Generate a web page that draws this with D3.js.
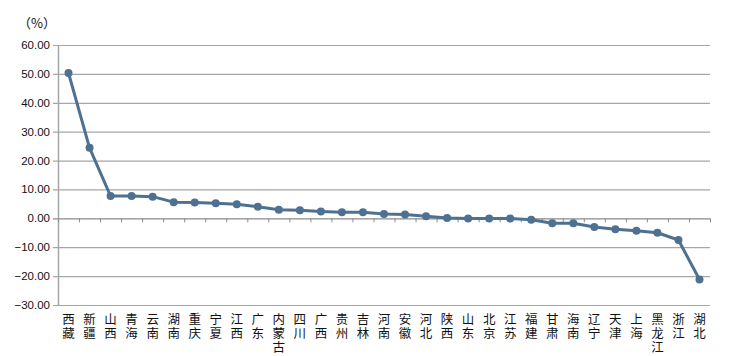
<!DOCTYPE html>
<html><head><meta charset="utf-8">
<script src="https://cdn.jsdelivr.net/npm/d3@7/dist/d3.min.js"></script>
<style>
body{margin:0;background:#fff;}
svg{display:block;}
</style></head>
<body>
<svg id="chart" width="732" height="356"></svg>
<script>
const categories = ["西藏","新疆","山西","青海","云南","湖南","重庆","宁夏","江西","广东","内蒙古","四川","广西","贵州","吉林","河南","安徽","河北","陕西","山东","北京","江苏","福建","甘肃","海南","辽宁","天津","上海","黑龙江","浙江","湖北"];
const values = [50.3,24.4,7.7,7.7,7.5,5.6,5.5,5.2,4.9,4.0,3.0,2.8,2.4,2.1,2.1,1.5,1.3,0.7,0.1,-0.1,-0.1,-0.1,-0.5,-1.7,-1.7,-3.0,-3.8,-4.3,-5.0,-7.5,-21.2];
const yTicks = [60,50,40,30,20,10,0,-10,-20,-30];
const unitLabel = "（%）";

(function(){
const svg = d3.select("#chart");
const mLeft = 58, mRight = 710, mTop = 45, mBottom = 305;
const x = d3.scaleBand().domain(categories).range([mLeft, mRight]);
const y = d3.scaleLinear().domain([-30, 60]).range([mBottom, mTop]);
const font = "Arial, 'Liberation Sans', 'Noto Sans CJK SC', sans-serif";

// gridlines
svg.append("g").selectAll("line").data(yTicks).join("line")
  .attr("x1", mLeft - 5).attr("x2", mRight)
  .attr("y1", d => y(d) + 0.5).attr("y2", d => y(d) + 0.5)
  .attr("stroke", d => d === 0 ? "#8a8a8a" : "#a6a6a6").attr("stroke-width", 1.2);

// y axis line
svg.append("line").attr("x1", mLeft + 0.5).attr("x2", mLeft + 0.5)
  .attr("y1", mTop).attr("y2", mBottom).attr("stroke", "#a6a6a6").attr("stroke-width", 1.5);

// y labels
svg.append("g").selectAll("text").data(yTicks).join("text")
  .attr("x", 50).attr("y", d => y(d)).attr("dy", "0.35em")
  .attr("text-anchor", "end").attr("font-family", font).attr("font-size", 11.5)
  .attr("fill", "#111").text(d => d3.format(".2f")(d));

// x ticks on zero line
const bounds = categories.map(c => x(c)).concat([mRight]);
svg.append("g").selectAll("line").data(bounds).join("line")
  .attr("x1", d => d + 0.5).attr("x2", d => d + 0.5)
  .attr("y1", y(0)).attr("y2", y(0) + 4)
  .attr("stroke", "#8a8a8a").attr("stroke-width", 1);

// category labels (vertical stacked, one text per character)
const chars = [];
categories.forEach(c => Array.from(c).forEach((ch, i) => chars.push({c, ch, i})));
svg.append("g").selectAll("text").data(chars).join("text")
  .attr("font-family", "'Noto Sans CJK SC', sans-serif").attr("font-size", 12.5)
  .attr("fill", "#111").attr("text-anchor", "middle")
  .attr("x", d => x(d.c) + x.bandwidth() / 2)
  .attr("y", d => 324 + d.i * 14)
  .text(d => d.ch);

// unit label
svg.append("text").attr("x", 18).attr("y", 28).attr("font-family", "'Noto Sans CJK SC', sans-serif")
  .attr("font-size", 13).attr("fill", "#111").text(unitLabel);

// line
const pts = categories.map((c, i) => [x(c) + x.bandwidth() / 2, y(values[i])]);
svg.append("path").attr("d", d3.line()(pts)).attr("fill", "none")
  .attr("stroke", "#4e7192").attr("stroke-width", 3).attr("stroke-linejoin", "round");
svg.append("g").selectAll("circle").data(pts).join("circle")
  .attr("cx", d => d[0]).attr("cy", d => d[1]).attr("r", 4)
  .attr("fill", "#4e7192");
})();
</script>
</body></html>
